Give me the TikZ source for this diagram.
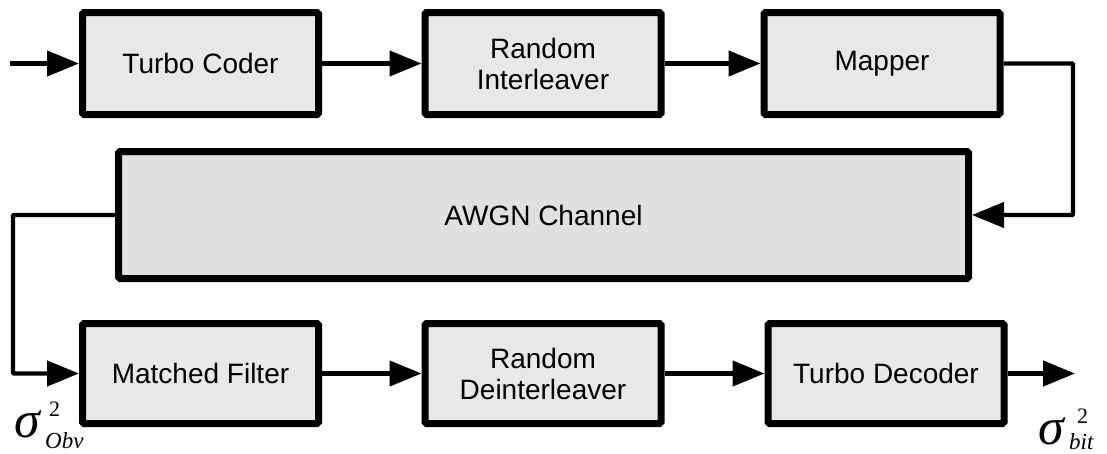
\documentclass[tikz,border=0pt]{standalone}
\usepackage{fontspec}
\setmainfont{Liberation Sans}
\newfontfamily\tms{Liberation Serif}
\usetikzlibrary{arrows.meta,calc}
\begin{document}
\begin{tikzpicture}[x=1pt,y=-1pt,
  blk/.style={draw=black,line width=7pt,fill=black!9,rounded corners=1.5pt,
    minimum width=236pt,minimum height=102pt,align=center,
    font=\fontsize{28}{31}\selectfont,inner sep=0pt},
  conn/.style={line width=4.4pt,-{Triangle[length=32pt,width=25pt]}},
  lbl/.style={inner sep=0pt,anchor=base west},
  sig/.style={lbl,font=\tms\fontsize{52}{52}\selectfont\itshape},
  sup/.style={lbl,font=\tms\fontsize{22}{22}\selectfont},
  sub/.style={lbl,font=\tms\fontsize{23}{23}\selectfont\itshape}]
\useasboundingbox (0,0) rectangle (1107,453);
\node[blk] (tc) at (200.5,63.5) {Turbo Coder};
\node[blk] (ri) at (543,63.5) {Random\\Interleaver};
\node[blk] (mp) at (882,63.5) {Mapper};
\node[blk,minimum width=850pt,minimum height=127pt,fill=black!12] (awgn) at (543.5,215) {AWGN Channel};
\node[blk,minimum height=100pt] (mf) at (200.5,373.5) {Matched Filter};
\node[blk,minimum height=100pt] (rd) at (543,373.5) {Random\\Deinterleaver};
\node[blk,minimum height=100pt] (td) at (886,373.5) {Turbo Decoder};
\coordinate (in) at (10,63.5);
\coordinate (cR) at (1073,0);
\coordinate (cL) at (13,0);
\coordinate (out) at (1075,373.5);
\draw[conn] (in) -- (tc.west);
\draw[conn] (tc.east) -- (ri.west);
\draw[conn] (ri.east) -- (mp.west);
\draw[conn,rounded corners=1pt] (mp.east) -- (mp.east -| cR) |- (awgn.east);
\draw[conn,rounded corners=1pt] (awgn.west) -- (awgn.west -| cL) |- (mf.west);
\draw[conn] (mf.east) -- (rd.west);
\draw[conn] (rd.east) -- (td.west);
\draw[conn] (td.east) -- (out);
\node[sig] (s1) at (14,437) {σ};
\node[sup] (s1p) at (49,416) {2};
\node[sub] (s1b) at (45,448) {Obv};
\node[sig] (s2) at (1038,444) {σ};
\node[sup] (s2p) at (1077,423) {2};
\node[sub] (s2b) at (1069,449) {bit};
\end{tikzpicture}
\end{document}
